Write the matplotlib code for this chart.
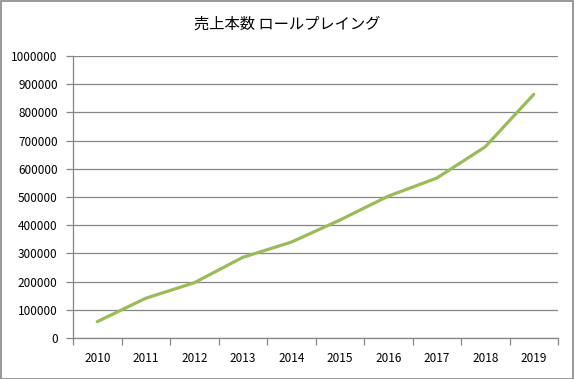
import matplotlib
matplotlib.use("Agg")
import matplotlib.pyplot as plt
from matplotlib.patches import Rectangle
import numpy as np

plt.rcParams['font.family'] = ['Noto Sans CJK JP', 'DejaVu Sans']

title = "売上本数 ロールプレイング"
years = ["2010", "2011", "2012", "2013", "2014", "2015", "2016", "2017", "2018", "2019"]
sales = [58000, 141000, 196000, 286000, 340000, 418000, 503000, 567000, 678000, 864000]

fig = plt.figure(figsize=(5.74, 3.79), dpi=100)
ax = fig.add_axes([73/574, 1-338/379, (558-73)/574, (338-56)/379])

x = np.arange(len(years)) + 0.5
ax.plot(x, sales, color="#9BBB59", lw=2.3, solid_capstyle="round", solid_joinstyle="round", zorder=3)

grid_c = "#868686"
ax.set_xlim(0, len(years))
ax.set_ylim(0, 1000000)
yt = np.arange(0, 1000001, 100000)
ax.set_yticks(yt)
ax.set_yticklabels([str(v) for v in yt])
ax.yaxis.grid(True, color=grid_c, lw=0.9)
ax.set_axisbelow(True)

ax.set_xticks(np.arange(0, len(years) + 1))
ax.set_xticklabels([])
ax.set_xticks(x, minor=True)
ax.set_xticklabels(years, minor=True)
ax.tick_params(axis="x", which="minor", length=0, pad=10, labelsize=8.5, colors="black")
ax.tick_params(axis="x", which="major", length=5, color=grid_c, width=0.9)
ax.tick_params(axis="y", length=5, color=grid_c, width=0.9, labelsize=8.5, pad=6)

for s in ["top", "right"]:
    ax.spines[s].set_visible(False)
for s in ["left", "bottom"]:
    ax.spines[s].set_color(grid_c)
    ax.spines[s].set_linewidth(0.9)

fig.text(0.5, 1-24/379, title, ha="center", va="center", fontsize=11)

fig.patches.append(Rectangle((0.001, 0.001), 0.997, 0.996, transform=fig.transFigure,
                             fill=False, edgecolor="#888888", lw=1.2))

fig.savefig("out.png", dpi=100)
